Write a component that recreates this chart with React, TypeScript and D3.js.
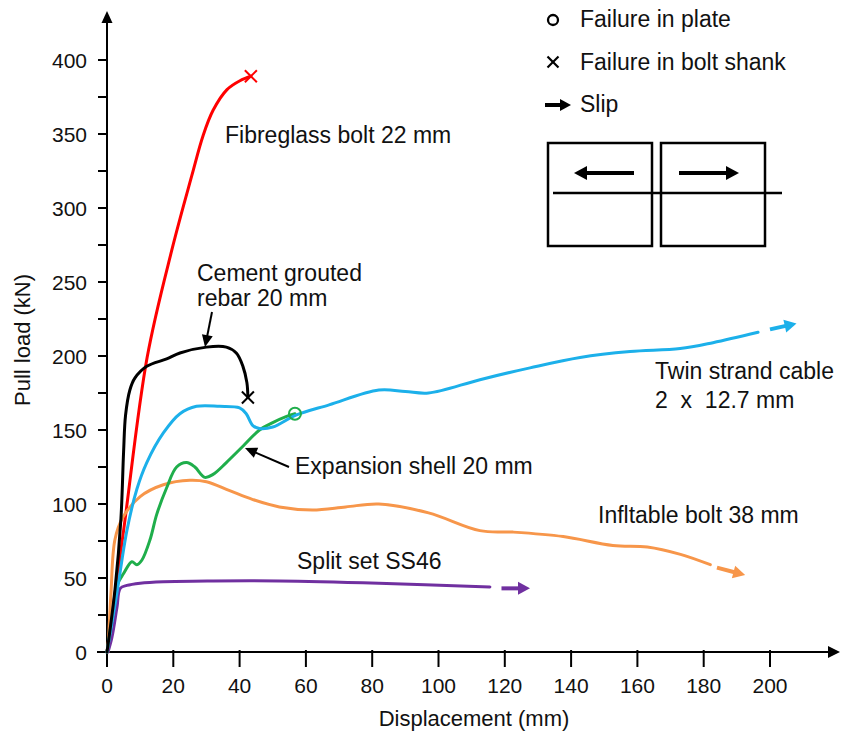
import React from 'react';
import * as d3 from 'd3';

// displacement (mm), pull load (kN)
const fibreglass = [[0, 0], [5, 82], [12.1, 199], [19.6, 272], [25.6, 322], [29, 349], [32, 366], [36.2, 380], [40.1, 386], [43.4, 389]];
const cementRebar = [[0, 0], [2.4, 42], [4.2, 90], [5, 135], [5.6, 160], [6.9, 177], [8.4, 185], [12, 193], [18, 198], [22, 202], [30, 206], [36, 206], [39, 202], [41, 193], [42.2, 182], [42.5, 172]];
const twinStrand = [[0, 0], [3, 40], [6, 82], [9, 110], [12, 128], [17, 148], [22, 161], [27, 166], [34, 166], [40, 165], [42, 161], [44, 153], [46, 151], [50, 152], [57, 160], [67, 167], [82, 177], [90, 176], [97, 175], [112.5, 184], [127.6, 192], [142.7, 199], [157.8, 203], [172.9, 205], [182.8, 209], [196.4, 216]];
const expansionShell = [[0, 0], [2, 30], [3, 45], [5, 53], [7.5, 61], [9, 59], [10.5, 62], [13, 76], [15, 93], [18, 111], [21, 125], [24, 128], [26.5, 125], [29.5, 118], [32, 120], [36, 128], [41, 139], [46, 150], [50, 155], [54, 159], [56.7, 161]];
const inflatable = [[0.3, 0], [1.2, 40], [2.4, 76], [4.8, 91], [10, 105], [17, 113], [25, 116], [30, 115], [37, 109], [44, 103], [52, 98], [62, 96], [72, 98], [82, 100], [97, 94], [112.5, 82], [122.5, 81], [137.6, 78], [152.6, 72], [163, 71], [173, 66], [182, 59]];
const splitSet = [[0.3, 0], [1.5, 10], [3, 30], [4, 43], [6, 45], [10, 46.5], [17, 47.5], [32, 48], [52, 48], [82, 46.5], [115.5, 44]];

// slip arrows [start, tip]
const twinStrandSlip = [[200, 218], [208, 222]];
const inflatableSlip = [[184, 57], [192.5, 52]];
const splitSetSlip = [[119, 43], [127.6, 43]];

// failure markers
const shankFailures = [[43.4, 389, '#ff0000'], [42.5, 172, '#000000']];
const plateFailures = [[56.7, 161, '#1fae4b']];

const xTicks = [0, 20, 40, 60, 80, 100, 120, 140, 160, 180, 200];
const yTicks = [0, 50, 100, 150, 200, 250, 300, 350, 400];
const yMinorTicks = [25, 75, 125, 175, 225, 275, 325, 375];

const FONT = '"Liberation Sans", Arial, sans-serif';

const xScale = d3.scaleLinear().domain([0, 200]).range([107, 770]);
const yScale = d3.scaleLinear().domain([0, 400]).range([652, 60]);

const line = d3.line()
  .x(d => xScale(d[0]))
  .y(d => yScale(d[1]))
  .curve(d3.curveCatmullRom.alpha(0.5));

function Arrow({ x1, y1, x2, y2, color, width = 3.5, head = 11, half = 6 }) {
  const ang = Math.atan2(y2 - y1, x2 - x1);
  const bx = x2 - head * Math.cos(ang);
  const by = y2 - head * Math.sin(ang);
  const px = -Math.sin(ang) * half;
  const py = Math.cos(ang) * half;
  return (
    <g>
      <line x1={x1} y1={y1} x2={bx + Math.cos(ang)} y2={by + Math.sin(ang)} stroke={color} strokeWidth={width} />
      <polygon points={`${x2},${y2} ${bx + px},${by + py} ${bx - px},${by - py}`} fill={color} />
    </g>
  );
}

function Cross({ cx, cy, r, color, w = 2 }) {
  return (
    <g stroke={color} strokeWidth={w}>
      <line x1={cx - r} y1={cy - r} x2={cx + r} y2={cy + r} />
      <line x1={cx - r} y1={cy + r} x2={cx + r} y2={cy - r} />
    </g>
  );
}

function SlipArrow({ pts, color }) {
  return (
    <Arrow x1={xScale(pts[0][0])} y1={yScale(pts[0][1])} x2={xScale(pts[1][0])} y2={yScale(pts[1][1])} color={color} width={4} head={12} half={6.5} />
  );
}

export default function App() {
  const series = [
    { data: fibreglass, color: '#ff0000' },
    { data: inflatable, color: '#f7964a' },
    { data: splitSet, color: '#7030a0' },
    { data: expansionShell, color: '#1fae4b' },
    { data: twinStrand, color: '#1cb0ea' },
    { data: cementRebar, color: '#000000' },
  ];

  return (
    <svg width={842} height={734} style={{ position: 'absolute', left: 0, top: 0, background: '#fff' }} fontFamily={FONT}>
      {/* axes */}
      <g stroke="#000" strokeWidth={2}>
        <line x1={97} y1={652} x2={830} y2={652} />
        <line x1={107} y1={657} x2={107} y2={22} />
        {xTicks.map(t => (
          <line key={'xt' + t} x1={xScale(t)} y1={650} x2={xScale(t)} y2={667} />
        ))}
        {yTicks.concat(yMinorTicks).map(t => (
          <line key={'yt' + t} x1={98} y1={yScale(t)} x2={107} y2={yScale(t)} />
        ))}
      </g>
      <polygon points="840,652 828,646 828,658" fill="#000" />
      <polygon points="107,11 101.5,23 112.5,23" fill="#000" />
      {xTicks.map(t => (
        <text key={'xl' + t} x={xScale(t)} y={693} fontSize={21} textAnchor="middle" fill="#111">{t}</text>
      ))}
      {yTicks.map(t => (
        <text key={'yl' + t} x={87} y={yScale(t)} dy="0.36em" fontSize={21} textAnchor="end" fill="#111">{t}</text>
      ))}
      <text x={474} y={726} fontSize={22} textAnchor="middle" fill="#111">Displacement (mm)</text>
      <text transform="translate(30,340) rotate(-90)" fontSize={22} textAnchor="middle" fill="#111">Pull load (kN)</text>

      {/* curves */}
      {series.map((s, i) => (
        <path key={i} d={line(s.data)} fill="none" stroke={s.color} strokeWidth={3} strokeLinejoin="round" strokeLinecap="round" />
      ))}
      <SlipArrow pts={twinStrandSlip} color="#1cb0ea" />
      <SlipArrow pts={inflatableSlip} color="#f7964a" />
      <SlipArrow pts={splitSetSlip} color="#7030a0" />
      {shankFailures.map((m, i) => (
        <Cross key={'sf' + i} cx={xScale(m[0])} cy={yScale(m[1])} r={6} color={m[2]} />
      ))}
      {plateFailures.map((m, i) => (
        <circle key={'pf' + i} cx={xScale(m[0])} cy={yScale(m[1])} r={6} fill="none" stroke={m[2]} strokeWidth={2} />
      ))}

      {/* annotations */}
      <g fontSize={23} fill="#111">
        <text x={225} y={143}>Fibreglass bolt 22 mm</text>
        <text x={197} y={281}>Cement grouted</text>
        <text x={197} y={306}>rebar 20 mm</text>
        <text x={295} y={474}>Expansion shell 20 mm</text>
        <text x={655} y={379}>Twin strand cable</text>
        <text x={655} y={408} style={{ whiteSpace: 'pre' }}>2  x  12.7 mm</text>
        <text x={598} y={523}>Infltable bolt 38 mm</text>
        <text x={297} y={569}>Split set SS46</text>
      </g>
      <Arrow x1={212} y1={312} x2={205} y2={347} color="#000" width={2} head={12} half={5.5} />
      <Arrow x1={289} y1={467} x2={245} y2={448} color="#000" width={2} head={12} half={5.5} />

      {/* legend */}
      <circle cx={553} cy={20} r={5} fill="none" stroke="#000" strokeWidth={2.3} />
      <Cross cx={553} cy={62} r={5.5} color="#000" w={2.2} />
      <Arrow x1={545} y1={105} x2={571} y2={105} color="#000" width={4} head={11} half={6} />
      <g fontSize={23} fill="#111">
        <text x={580} y={27}>Failure in plate</text>
        <text x={580} y={70}>Failure in bolt shank</text>
        <text x={580} y={112}>Slip</text>
      </g>
      <g fill="none" stroke="#000" strokeWidth={2.5}>
        <rect x={548} y={143} width={104} height={103} />
        <rect x={661} y={143} width={104} height={103} />
        <line x1={553} y1={193} x2={782} y2={193} />
      </g>
      <Arrow x1={634} y1={173} x2={574} y2={173} color="#000" width={4} head={13} half={7} />
      <Arrow x1={679} y1={173} x2={739} y2={173} color="#000" width={4} head={13} half={7} />
    </svg>
  );
}
